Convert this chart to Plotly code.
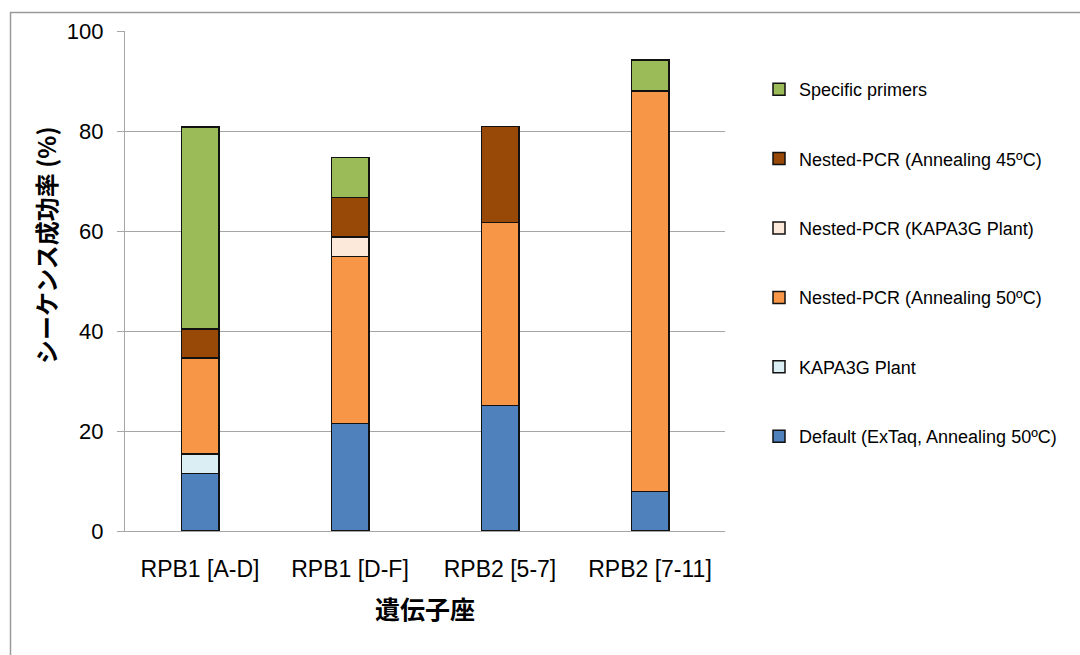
import plotly.graph_objects as go

categories = ["RPB1 [A-D]", "RPB1 [D-F]", "RPB2 [5-7]", "RPB2 [7-11]"]

series_names = [
    "Default (ExTaq, Annealing 50ºC)",
    "KAPA3G Plant",
    "Nested-PCR (Annealing 50ºC)",
    "Nested-PCR (KAPA3G Plant)",
    "Nested-PCR (Annealing 45ºC)",
    "Specific primers",
]
default_vals = [11.5, 21.5, 25.1, 7.9]
kapa3g_vals = [3.9, 0, 0, 0]
nested50_vals = [19.2, 33.4, 36.6, 80.1]
nested_kapa_vals = [0, 3.9, 0, 0]
nested45_vals = [5.8, 7.9, 19.2, 0]
specific_vals = [40.4, 8.0, 0, 6.2]

series_values = [default_vals, kapa3g_vals, nested50_vals, nested_kapa_vals, nested45_vals, specific_vals]
series_colors = ["#4F81BD", "#DBEEF4", "#F79646", "#FDE9D9", "#984807", "#9BBB59"]

y_tick_vals = [0, 20, 40, 60, 80, 100]

fig = go.Figure()
n = len(series_names)
for i, (name, vals, col) in enumerate(zip(series_names, series_values, series_colors)):
    fig.add_trace(go.Bar(
        x=categories, y=vals, name=name,
        marker=dict(color=col, line=dict(color="#111111", width=1.5)),
        legendgroup=str(i),
        legendrank=n - i,
    ))

L, R, T, B = 125, 355, 31, 124
W, H = 600, 500
fig.update_layout(
    width=1080, height=655,
    margin=dict(l=L, r=R, t=T, b=B),
    barmode="stack",
    bargap=0.75,
    paper_bgcolor="white",
    plot_bgcolor="white",
    font=dict(family="Liberation Sans, Arial, sans-serif", color="#000000"),
    legend=dict(
        traceorder="grouped",
        tracegroupgap=43,
        x=(759 - L) / W, xanchor="left",
        y=(531 - 71) / H, yanchor="top",
        font=dict(size=18, family="Liberation Sans, Arial, sans-serif"),
        itemwidth=30,
        bgcolor="rgba(0,0,0,0)",
    ),
    showlegend=True,
)
fig.update_yaxes(
    range=[0, 100], tickvals=y_tick_vals,
    showgrid=True, gridcolor="#a6a6a6", gridwidth=1.3,
    showline=True, linecolor="#a6a6a6", linewidth=1.3,
    ticks="outside", ticklen=7, tickcolor="#a6a6a6", tickwidth=1.3,
    tickfont=dict(size=22), ticklabelstandoff=9,
    zeroline=False,
)
fig.update_xaxes(
    showline=True, linecolor="#a6a6a6", linewidth=1.3,
    ticks="", tickfont=dict(size=23), ticklabelstandoff=17,
    showgrid=False,
)
fig.add_annotation(
    text="<b>シーケンス成功率 (%)</b>", textangle=-90,
    xref="paper", yref="paper",
    x=(45 - L) / W, y=(531 - 245) / H, xanchor="center", yanchor="middle",
    showarrow=False,
    font=dict(size=24, family="Noto Sans CJK JP, sans-serif"),
)
fig.add_annotation(
    text="<b>遺伝子座</b>",
    xref="paper", yref="paper",
    x=0.5, y=-(608 - 531) / H, xanchor="center", yanchor="middle",
    showarrow=False,
    font=dict(size=25, family="Noto Sans CJK JP, sans-serif"),
)
fig.add_shape(
    type="rect", xref="paper", yref="paper",
    x0=(10.5 - L) / W, x1=(1090 - L) / W,
    y0=-(670 - 531) / H, y1=1 + (T - 12.5) / H,
    line=dict(color="#9a9a9a", width=1.5), fillcolor="rgba(0,0,0,0)",
    layer="below",
)
fig.write_html("out.html")
